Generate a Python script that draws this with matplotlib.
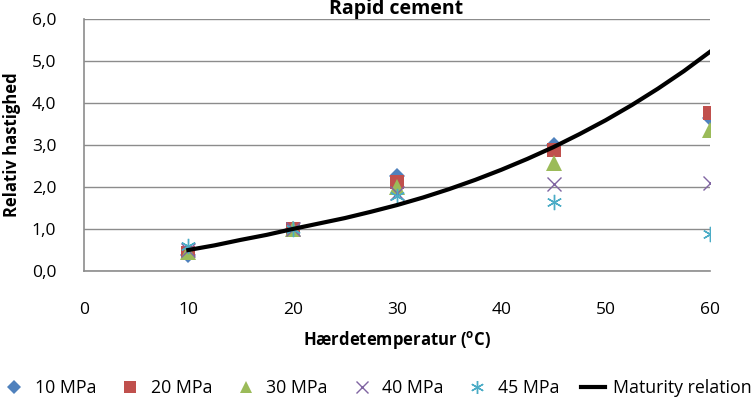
import numpy as np
import matplotlib
matplotlib.use("Agg")
import matplotlib.pyplot as plt

plt.rcParams['font.family'] = ['Open Sans', 'DejaVu Sans']

## data
temps = [10, 20, 30, 45, 60]
mpa10 = [0.38, 1.0, 2.27, 3.00, 3.65]
mpa20 = [0.42, 1.0, 2.13, 2.87, 3.76]
mpa30 = [0.45, 1.0, 2.00, 2.58, 3.35]
mpa40 = [0.50, 1.0, 1.85, 2.06, 2.10]
mpa45 = [0.60, 1.0, 1.78, 1.65, 0.89]

mat_temp = [10, 12.5, 15, 17.5, 20, 22.5, 25, 27.5, 30, 32.5, 35, 37.5,
            40, 42.5, 45, 47.5, 50, 52.5, 55, 57.5, 60]
mat_rel = [0.50, 0.61, 0.74, 0.86, 1.0, 1.13, 1.26, 1.41, 1.57, 1.75, 1.95, 2.17,
           2.41, 2.67, 2.95, 3.26, 3.59, 3.95, 4.34, 4.76, 5.22]

series = [
    ("10 MPa", mpa10, "D", "#4F81BD", 8.5),
    ("20 MPa", mpa20, "s", "#C0504D", 10.5),
    ("30 MPa", mpa30, "^", "#9BBB59", 11),
    ("40 MPa", mpa40, "x", "#8064A2", 10),
    ("45 MPa", mpa45, "*", "#4BACC6", 11),
]

fig = plt.figure(figsize=(7.55, 3.98), dpi=100)
ax = fig.add_axes([84/755, 1-271/398, (710-84)/755, (271-19)/398])

for lab, vals, mk, col, ms in series:
    if mk == "x":
        ax.plot(temps, vals, ls="none", marker="x", ms=ms, mew=1.0, color=col, label=lab, zorder=3)
    elif mk == "*":
        ax.plot(temps, vals, ls="none", marker=(6, 2, 0), ms=ms, mew=1.0, color=col, label=lab, zorder=3)
    else:
        ax.plot(temps, vals, ls="none", marker=mk, ms=ms, mew=0, color=col, label=lab, zorder=3)

ax.plot(mat_temp, mat_rel, color="black", lw=3, label="Maturity relation", zorder=4)

ax.set_xlim(0, 60)
ax.set_ylim(0, 6)
ax.set_xticks(range(0, 61, 10))
yt = np.arange(0, 6.1, 1)
ax.set_yticks(yt)
ax.set_yticklabels([("%.1f" % v).replace(".", ",") for v in yt])
ax.tick_params(length=0, labelsize=12.5)
ax.tick_params(axis="x", pad=22)
ax.tick_params(axis="y", pad=20)
ax.grid(axis="y", color="#8c8c8c", lw=1)
ax.set_axisbelow(True)
for s in ["top", "right"]:
    ax.spines[s].set_visible(False)
for s in ["left", "bottom"]:
    ax.spines[s].set_color("#8c8c8c")
    ax.spines[s].set_linewidth(1.2)

ax.set_xlabel("Hærdetemperatur ($\\mathregular{^o}$C)", fontsize=12, fontweight="bold", labelpad=8)
ax.set_ylabel("Relativ hastighed", fontsize=12, fontweight="bold", labelpad=8)
fig.text(0.525, 1-14/398, "Rapid cement", ha="center", va="baseline", fontsize=14, fontweight="bold")

fig.legend(loc="center", bbox_to_anchor=(0.5, 1-388/398), ncol=6, frameon=False,
           fontsize=12.8, handlelength=1.3, handletextpad=0.5, columnspacing=1.25,
           borderaxespad=0, borderpad=0, markerscale=0.85)

fig.savefig("out.png", dpi=100)
